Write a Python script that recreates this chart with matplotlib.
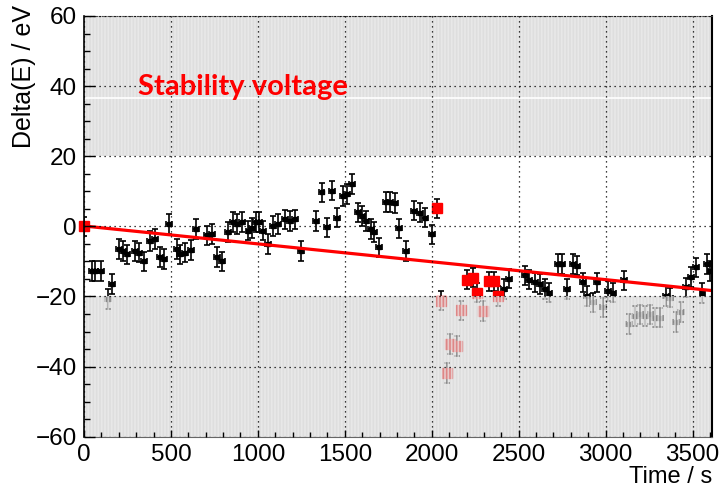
import matplotlib
matplotlib.use('Agg')
import matplotlib.pyplot as plt
from matplotlib.ticker import MultipleLocator

plt.rcParams['font.family'] = ['Liberation Sans', 'DejaVu Sans']
plt.rcParams['hatch.linewidth'] = 1.2

# black points: time (s) and energy shift (eV)
t_black = [44, 63, 96, 140, 163, 203, 226, 245, 293, 318, 345, 380, 408, 437, 460,
           491, 533, 552, 581, 613, 644, 705, 734, 767, 792, 826, 859, 882, 911, 946,
           966, 990, 1008, 1031, 1057, 1088, 1117, 1155, 1184, 1213, 1247, 1334, 1366,
           1395, 1424, 1453, 1491, 1510, 1543, 1574, 1600, 1620, 1650, 1669, 1696, 1734,
           1759, 1788, 1811, 1850, 1900, 1932, 1961, 1999,
           2416, 2446, 2536, 2561, 2594, 2623, 2652, 2677, 2727, 2747, 2776, 2814, 2833,
           2868, 2891, 2925, 2952, 2987, 3016, 3045, 3106, 3136, 3168, 3197, 3226, 3258,
           3283, 3312, 3346, 3369, 3404, 3436, 3462, 3490, 3519, 3557, 3584, 3603]
de_black = [-12.7, -12.7, -12.7, -20.8, -16.5, -6.5, -7.0, -8.0, -7.0, -7.5, -10.0, -4.1, -3.6, -8.8, -9.4,
            0.7, -6.5, -8.0, -7.5, -6.7, -0.7, -2.6, -2.1, -8.8, -10.0, -1.6, 1.2, 0.7, 1.2, -1.2,
            -0.5, 1.2, 1.2, -1.2, -5.1, 0.1, 0.6, 2.0, 1.6, 2.0, -7.0, 1.6, 9.7,
            -0.3, 10.2, 2.5, 8.7, 9.2, 12.1, 4.0, 3.0, 1.6, -0.7, -1.7, -6.0, 7.0,
            7.0, 6.6, -0.6, -7.0, 4.5, 3.9, 2.5, -2.3,
            -17.9, -14.9, -14.0, -15.2, -16.0, -16.5, -17.9, -18.9, -10.8, -10.8, -17.9, -10.8, -11.2,
            -16.0, -19.8, -21.7, -16.0, -23.1, -18.4, -18.9, -15.4, -27.9, -25.5, -25.1, -25.5, -25.1,
            -26.0, -26.0, -19.8, -20.3, -27.2, -24.5, -17.4, -14.5, -11.7, -19.0, -10.8, -12.7]

# red points
t_red = [0, 2028, 2056, 2085, 2104, 2143, 2171, 2204, 2235, 2262, 2296, 2331, 2358, 2383]
de_red = [0.0, 5.1, -21.2, -41.9, -33.6, -34.1, -24.0, -15.2, -14.6, -18.9, -24.1, -15.7, -15.7, -19.8]

t_err = 17
de_err = 2.8

# linear fit
fit_a = 0.1
fit_b = -0.0051
t_fit = [0, 3610]

fig = plt.figure(figsize=(7.21, 4.88), dpi=100)
ax = fig.add_axes([84 / 721, 1 - 436.7 / 488, (711.7 - 84) / 721, (436.7 - 16) / 488])

ax.errorbar(t_black, de_black, xerr=t_err, yerr=de_err, fmt='s', ms=2.5,
            color='black', elinewidth=1.2, capsize=2.2, capthick=1.2, zorder=2)

ax.plot(t_fit, [fit_a + fit_b * t for t in t_fit], color='red', lw=2.3, zorder=2.1)

ax.errorbar(t_red, de_red, xerr=t_err, yerr=de_err, fmt='none',
            ecolor='black', elinewidth=1.2, capsize=2.2, capthick=1.2, zorder=2.15)
ax.plot(t_red, de_red, 's', ms=7, color='red', zorder=2.2, clip_on=False)

# shaded regions outside +-20 eV
for lo, hi in [(20, 60), (-60, -20)]:
    ax.axhspan(lo, hi, facecolor='#cdcdcd', edgecolor='#eeeeee', hatch='|||||',
               lw=0, alpha=0.66, zorder=2.3)
ax.axhline(36.6, color='white', lw=1.2, zorder=2.35)

ax.set_xlim(0, 3610)
ax.set_ylim(-60, 60)
ax.set_axisbelow(False)
ax.xaxis.set_major_locator(MultipleLocator(500))
ax.xaxis.set_minor_locator(MultipleLocator(100))
ax.yaxis.set_major_locator(MultipleLocator(20))
ax.yaxis.set_minor_locator(MultipleLocator(5))
ax.grid(True, which='major', color='black', linestyle=(0, (1, 3)), lw=0.9)

ax.tick_params(axis='y', which='major', direction='in', length=8, width=1, labelsize=17.5, pad=5)
ax.tick_params(axis='y', which='minor', direction='in', length=4.5, width=1)
ax.tick_params(axis='x', which='major', direction='in', length=5, width=1, labelsize=17.5, pad=5)
ax.tick_params(axis='x', which='minor', direction='in', length=3.5, width=1)

ax.spines['top'].set_linestyle(':')
ax.spines['top'].set_color('#444444')
ax.spines['bottom'].set_color('#666666')
ax.spines['bottom'].set_linewidth(0.8)
ax.spines['left'].set_linewidth(1.2)
ax.spines['right'].set_linewidth(1.5)

fig.text(24 / 721, 1 - 5 / 488, 'Delta(E) / eV', rotation=90, ha='center', va='top', fontsize=18)
fig.text(712 / 721, 1 - 466 / 488, 'Time / s', ha='right', va='top', fontsize=17)
fig.text(138 / 721, 1 - 87 / 488, 'Stability voltage', ha='left', va='center',
         fontsize=21, fontweight='bold', color='red', family=['Lato', 'DejaVu Sans'])

fig.savefig('out.png', dpi=100)
